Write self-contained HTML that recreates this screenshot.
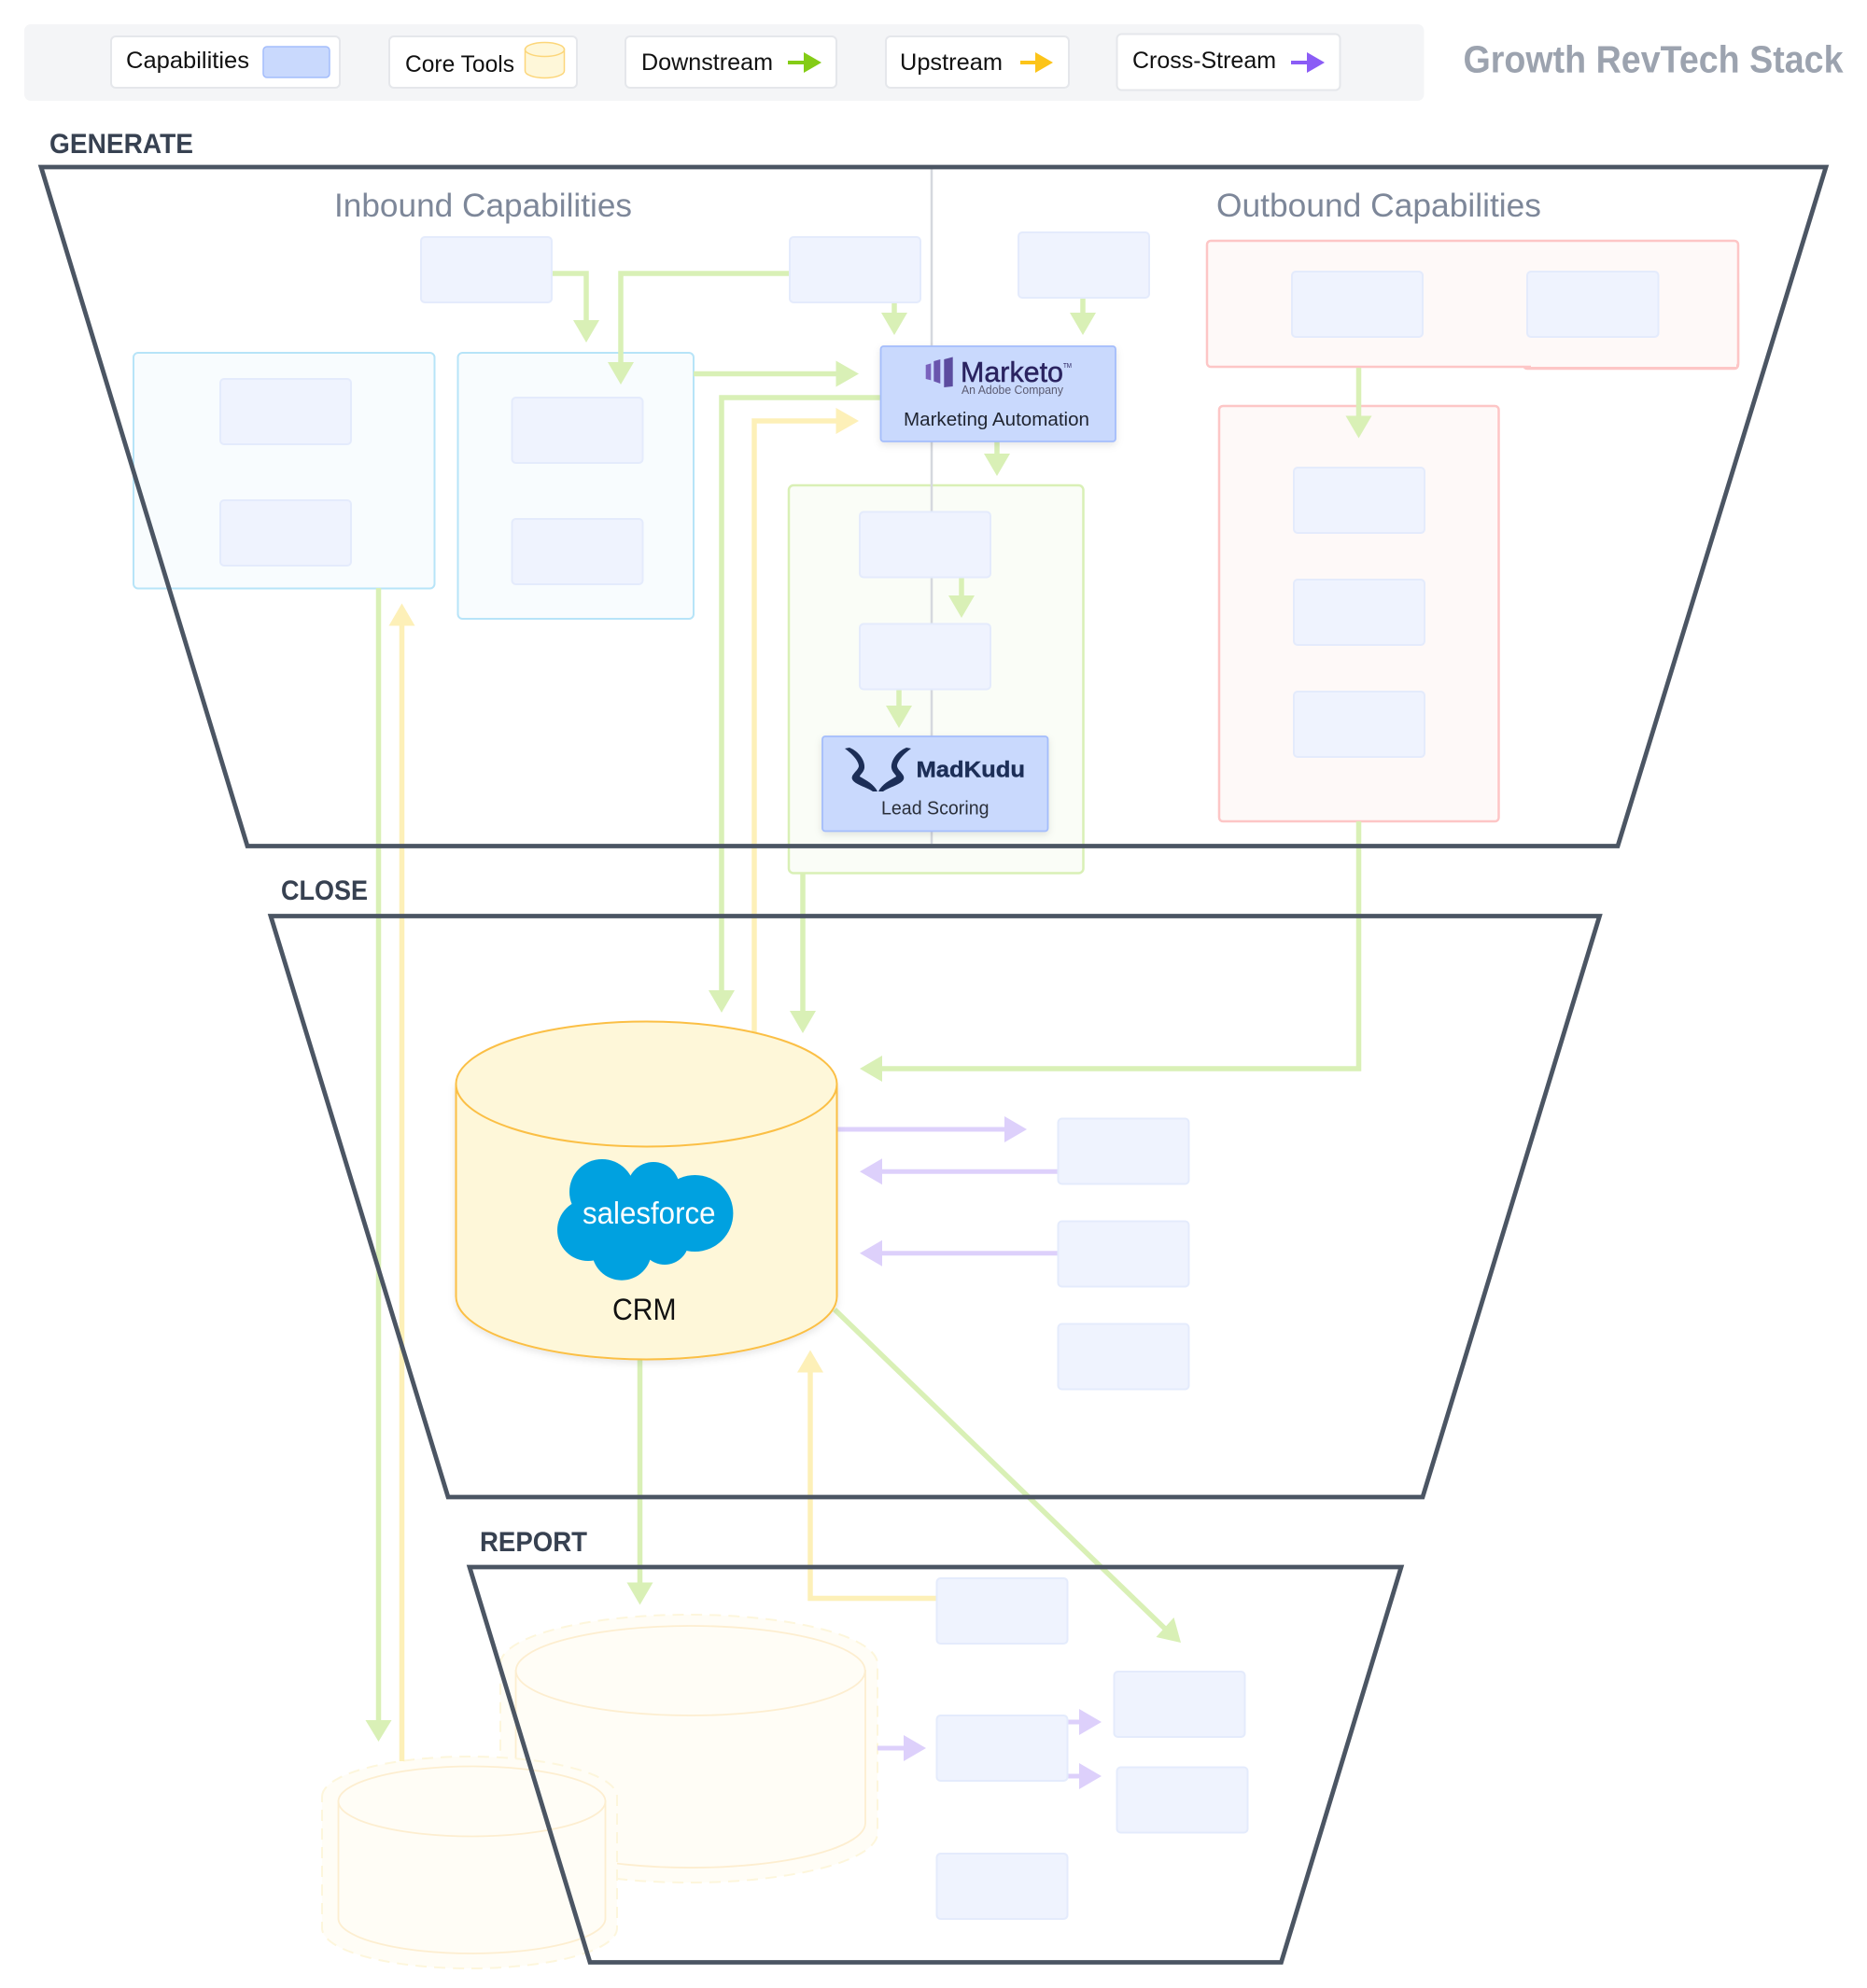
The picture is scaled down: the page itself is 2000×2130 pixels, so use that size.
<!DOCTYPE html>
<html><head><meta charset="utf-8"><style>
html,body{margin:0;padding:0;background:#fff}
svg{display:block}
text{font-family:"Liberation Sans",sans-serif}
.b{fill:#eff3fe;stroke:#e4ebfc;stroke-width:2}
.g{fill:none;stroke:#d9f0b6;stroke-width:5.500}
.y{fill:none;stroke:#fdf0b8;stroke-width:5.500}
.p{fill:none;stroke:#ddd0fb;stroke-width:5}
.gh{fill:#d9f0b6}.yh{fill:#fdf0b8}.ph{fill:#ddd0fb}
.f{fill:none;stroke:#4b5563;stroke-width:4.800}
.l{fill:#fff;stroke:#e5e7eb;stroke-width:2}
.t{font-size:25px;fill:#111}
.s{font-size:30px;fill:#374151;font-weight:bold}
.c{font-size:35px;fill:#7d8799}
</style></head><body>
<svg xmlns="http://www.w3.org/2000/svg" width="2000" height="2130" viewBox="0 0 2000 2130">
<defs><filter id="sh" x="-10%" y="-10%" width="120%" height="125%"><feDropShadow dx="0" dy="3" stdDeviation="4" flood-color="#000" flood-opacity=".1"/></filter></defs>

<!-- legend -->
<rect x="26" y="26" width="1499.500" height="82" rx="7" fill="#f4f5f7"/>
<rect class="l" x="119" y="39" width="245" height="55" rx="5"/>
<text class="t" x="135" y="73" textLength="132" lengthAdjust="spacingAndGlyphs">Capabilities</text>
<rect x="282" y="50" width="71" height="33" rx="4" fill="#c9d9fd" stroke="#a4bdfb" stroke-width="1.500"/>
<rect class="l" x="417" y="39" width="201" height="55" rx="5"/>
<text class="t" x="434" y="77" textLength="117" lengthAdjust="spacingAndGlyphs">Core Tools</text>
<path d="M562.500 53V76A21 7.500 0 0 0 604.500 76V53Z" fill="#fef7d9" stroke="#fcd67a" stroke-width="1.500"/>
<ellipse cx="583.500" cy="53" rx="21" ry="7.500" fill="#fef7d9" stroke="#fcd67a" stroke-width="1.500"/>
<rect class="l" x="670" y="39" width="226" height="55" rx="5"/>
<text class="t" x="687" y="75" textLength="141" lengthAdjust="spacingAndGlyphs">Downstream</text>
<path d="M844 67H864" stroke="#84cc16" stroke-width="4" fill="none"/><path d="M861 56L880 67L861 78Z" fill="#84cc16"/>
<rect class="l" x="949" y="39" width="196" height="55" rx="5"/>
<text class="t" x="964" y="75" textLength="110" lengthAdjust="spacingAndGlyphs">Upstream</text>
<path d="M1093 67H1112" stroke="#fcc419" stroke-width="4" fill="none"/><path d="M1109 56L1128 67L1109 78Z" fill="#fcc419"/>
<rect class="l" x="1196.500" y="36.500" width="239" height="60" rx="5"/>
<text class="t" x="1213" y="73" textLength="154" lengthAdjust="spacingAndGlyphs">Cross-Stream</text>
<path d="M1383 67H1403" stroke="#8b5cf6" stroke-width="4" fill="none"/><path d="M1400 56L1419 67L1400 78Z" fill="#8b5cf6"/>
<text x="1567.500" y="77.500" font-size="41" font-weight="bold" fill="#9ca3af" textLength="407" lengthAdjust="spacingAndGlyphs">Growth RevTech Stack</text>

<!-- stage labels -->
<text class="s" x="53" y="164" textLength="154" lengthAdjust="spacingAndGlyphs">GENERATE</text>
<text class="s" x="301" y="964" textLength="93" lengthAdjust="spacingAndGlyphs">CLOSE</text>
<text class="s" x="514" y="1662" textLength="115" lengthAdjust="spacingAndGlyphs">REPORT</text>
<text class="c" x="358" y="232" textLength="319" lengthAdjust="spacingAndGlyphs">Inbound Capabilities</text>
<text class="c" x="1303" y="232" textLength="348" lengthAdjust="spacingAndGlyphs">Outbound Capabilities</text>

<!-- groups -->
<rect x="143" y="378" width="322.500" height="252.500" rx="5" fill="#f8fcfe" stroke="#b7e4f8" stroke-width="2"/>
<rect x="490.500" y="378" width="252.500" height="285" rx="5" fill="#f8fcfe" stroke="#b7e4f8" stroke-width="2"/>
<rect x="845" y="520" width="315.500" height="415.500" rx="5" fill="#fafdf7" stroke="#d9f0b6" stroke-width="2.500"/>
<rect x="1632" y="300" width="230" height="95" rx="4" fill="#fef9f8" stroke="#fdc6c6" stroke-width="2.500"/>
<rect x="1293" y="258" width="569" height="135" rx="4" fill="#fef9f8" stroke="#fdc6c6" stroke-width="2.500"/>
<rect x="1640" y="290" width="220" height="103" fill="#fef9f8"/>
<rect x="1306" y="435" width="299.500" height="445" rx="4" fill="#fef9f8" stroke="#fdc6c6" stroke-width="2.500"/>

<!-- divider -->
<path d="M998 181V904" stroke="#d5d8de" stroke-width="2.500" fill="none"/>

<!-- faded cylinders -->
<g fill="#fffdf6" stroke="#fdf6dc" stroke-width="2" stroke-dasharray="12 8">
<path d="M536 1783A202 53 0 0 1 940 1783V1964A202 53 0 0 1 536 1964Z"/>
</g>
<path d="M552.500 1790V1953A187 48 0 0 0 927 1953V1790Z" fill="#fffdf6" stroke="#fdeed0" stroke-width="1.800"/>
<ellipse cx="739.700" cy="1790" rx="187" ry="48" fill="#fffdf6" stroke="#fdeed0" stroke-width="1.800"/>
<path d="M345 1925A158 43 0 0 1 661 1925V2066A158 43 0 0 1 345 2066Z" fill="#fffdf6" stroke="#fdf6dc" stroke-width="2" stroke-dasharray="12 8"/>
<path d="M362.500 1930V2055.500A143 37.500 0 0 0 648.500 2055.500V1930Z" fill="#fffdf6" stroke="#fdeed0" stroke-width="1.800"/>
<ellipse cx="505.500" cy="1930" rx="143" ry="37.500" fill="#fffdf6" stroke="#fdeed0" stroke-width="1.800"/>

<!-- connectors -->
<path class="y" d="M430.500 1887V668"/><path class="yh" d="M416.500 670.500L430.500 646.500L444.500 670.500Z"/>
<path class="g" d="M405.500 630V1846"/><path class="gh" d="M391.500 1843H419.500L405.500 1866Z"/>
<path class="y" d="M808 1106V451H898"/><path class="yh" d="M895.500 437L920 451L895.500 465Z"/>
<path class="g" d="M943 426H773V1063"/><path class="gh" d="M759 1061H787L773 1085Z"/>
<path class="g" d="M860 936V1086"/><path class="gh" d="M846 1083H874L860 1107Z"/>
<path class="g" d="M591 293H628V345"/><path class="gh" d="M614 343H642L628 367Z"/>
<path class="g" d="M846 293H665V390"/><path class="gh" d="M651 388H679L665 412Z"/>
<path class="g" d="M958 324V337"/><path class="gh" d="M944 335H972L958 359Z"/>
<path class="g" d="M1160 319V337"/><path class="gh" d="M1146 335H1174L1160 359Z"/>
<path class="g" d="M743 400.500H898"/><path class="gh" d="M895.500 386.500L920 400.500L895.500 414.500Z"/>
<path class="g" d="M1068 473V488"/><path class="gh" d="M1054 486H1082L1068 510Z"/>
<path class="g" d="M1030 618V640"/><path class="gh" d="M1016 638H1044L1030 662Z"/>
<path class="g" d="M963 739V758"/><path class="gh" d="M949 756H977L963 780Z"/>
<path class="g" d="M1455.500 394V448"/><path class="gh" d="M1441.500 445.500H1469.500L1455.500 469.500Z"/>
<path class="g" d="M1455.500 880V1145H943"/><path class="gh" d="M945 1131V1159L921 1145Z"/>
<path class="g" d="M685.500 1456V1698"/><path class="gh" d="M671.500 1695.500H699.500L685.500 1719.500Z"/>
<path class="y" d="M1004 1712.500H868V1468"/><path class="yh" d="M854 1470.500L868 1446.500L882 1470.500Z"/>
<path class="g" d="M894 1403L1248 1745"/><path class="gh" d="M1257.500 1733L1265 1760L1238.500 1754Z"/>
<path class="p" d="M896 1210H1078"/><path class="ph" d="M1076 1196L1100 1210L1076 1224Z"/>
<path class="p" d="M1134 1255.300H943"/><path class="ph" d="M945 1241.300V1269.300L921 1255.300Z"/>
<path class="p" d="M1134 1342.700H943"/><path class="ph" d="M945 1328.700V1356.700L921 1342.700Z"/>
<path class="p" d="M940 1873H970"/><path class="ph" d="M968 1859L992 1873L968 1887Z"/>
<path class="p" d="M1143 1845H1158"/><path class="ph" d="M1156 1831L1180 1845L1156 1859Z"/>
<path class="p" d="M1143 1903H1158"/><path class="ph" d="M1156 1889L1180 1903L1156 1917Z"/>

<!-- capability boxes -->
<g class="boxes">
<rect class="b" x="451" y="254" width="140" height="70" rx="4"/>
<rect class="b" x="846" y="254" width="140" height="70" rx="4"/>
<rect class="b" x="1091" y="249" width="140" height="70" rx="4"/>
<rect class="b" x="236" y="406" width="140" height="70" rx="4"/>
<rect class="b" x="236" y="536" width="140" height="70" rx="4"/>
<rect class="b" x="548.500" y="426" width="140" height="70" rx="4"/>
<rect class="b" x="548.500" y="556" width="140" height="70" rx="4"/>
<rect class="b" x="921" y="548.500" width="140" height="70" rx="4"/>
<rect class="b" x="921" y="668.500" width="140" height="70" rx="4"/>
<rect class="b" x="1384" y="291" width="140" height="70" rx="4"/>
<rect class="b" x="1636" y="291" width="140.500" height="70" rx="4"/>
<rect class="b" x="1386" y="501" width="140" height="70" rx="4"/>
<rect class="b" x="1386" y="621" width="140" height="70" rx="4"/>
<rect class="b" x="1386" y="741" width="140" height="70" rx="4"/>
<rect class="b" x="1133.500" y="1198.500" width="140" height="70" rx="4"/>
<rect class="b" x="1133.500" y="1308.500" width="140" height="70" rx="4"/>
<rect class="b" x="1133.500" y="1418.500" width="140" height="70" rx="4"/>
<rect class="b" x="1003.500" y="1691" width="140" height="70" rx="4"/>
<rect class="b" x="1003.500" y="1838" width="140" height="70" rx="4"/>
<rect class="b" x="1003.500" y="1986" width="140" height="70" rx="4"/>
<rect class="b" x="1193.500" y="1791" width="140" height="70" rx="4"/>
<rect class="b" x="1196.500" y="1893.500" width="140" height="70" rx="4"/>
</g>

<!-- Marketo -->
<rect x="943.500" y="371" width="251.500" height="102" rx="3" fill="#c9d9fd" stroke="#a4bdfb" stroke-width="1.800" filter="url(#sh)"/>
<polygon points="991.700,391 997.300,389.400 997.300,407.400 991.700,406" fill="#7a62bd"/>
<polygon points="1000.300,387 1007.300,385 1007.300,411 1000.300,408.500" fill="#6a55ad"/>
<polygon points="1011.300,385 1020.700,382.500 1020.700,414 1011.300,415" fill="#5c4c9f"/>
<text x="1029" y="409" font-size="31" fill="#2a2360" stroke="#2a2360" stroke-width=".5" textLength="110" lengthAdjust="spacingAndGlyphs">Marketo</text>
<text x="1139" y="394" font-size="7" fill="#2a2360" textLength="9" lengthAdjust="spacingAndGlyphs">TM</text>
<text x="1030" y="422" font-size="13" fill="#5b5b72" textLength="109" lengthAdjust="spacingAndGlyphs">An Adobe Company</text>
<text x="968" y="456" font-size="20" fill="#1f2430" textLength="199" lengthAdjust="spacingAndGlyphs">Marketing Automation</text>

<!-- MadKudu -->
<rect x="881" y="789" width="241.500" height="101.500" rx="3" fill="#c9d9fd" stroke="#a4bdfb" stroke-width="1.800" filter="url(#sh)"/>
<g fill="#1c2e57">
<path d="M905 802L910 801C920 805 927 815 926 823C925 828 921 830 921 832C928 836 936 840 940 848L935 848C928 843 916 841 913 835C911 830 919 826 920 821C920 815 912 807 905 802Z"/>
<path transform="matrix(-1 0 0 1 1881 0)" d="M905 802L910 801C920 805 927 815 926 823C925 828 921 830 921 832C928 836 936 840 940 848L935 848C928 843 916 841 913 835C911 830 919 826 920 821C920 815 912 807 905 802Z"/>
</g>
<text x="981.500" y="832.500" font-size="24" font-weight="bold" fill="#1c2e57" stroke="#1c2e57" stroke-width=".4" textLength="116.500" lengthAdjust="spacingAndGlyphs">MadKudu</text>
<text x="944" y="872.500" font-size="20" fill="#2a2f3a" textLength="115.500" lengthAdjust="spacingAndGlyphs">Lead Scoring</text>

<!-- CRM -->
<g filter="url(#sh)">
<path d="M488.500 1161.500V1389A204 67.500 0 0 0 896.500 1389V1161.500Z" fill="#fef7d9" stroke="#fbbf45" stroke-width="2"/>
</g>
<ellipse cx="692.500" cy="1161.500" rx="204" ry="67" fill="#fef7d9" stroke="#fbbf45" stroke-width="2"/>
<g fill="#00a1e0">
<circle cx="645" cy="1277" r="35"/><circle cx="700" cy="1273" r="28"/><circle cx="744.400" cy="1300" r="41"/>
<circle cx="630" cy="1318" r="33"/><circle cx="666" cy="1339.700" r="32"/><circle cx="712" cy="1329" r="26"/>
<rect x="630" y="1265" width="110" height="75"/>
</g>
<text x="624" y="1311" font-size="33" fill="#fff" textLength="142.500" lengthAdjust="spacingAndGlyphs">salesforce</text>
<text x="656" y="1414" font-size="32" fill="#111" textLength="68.500" lengthAdjust="spacingAndGlyphs">CRM</text>

<!-- funnels -->
<path class="f" d="M44 179H1956L1733 906.500H265Z"/>
<path class="f" d="M290 981.500H1713.500L1524 1604H480Z"/>
<path class="f" d="M503 1679H1501L1372.500 2102.500H632Z"/>
</svg>
</body></html>
